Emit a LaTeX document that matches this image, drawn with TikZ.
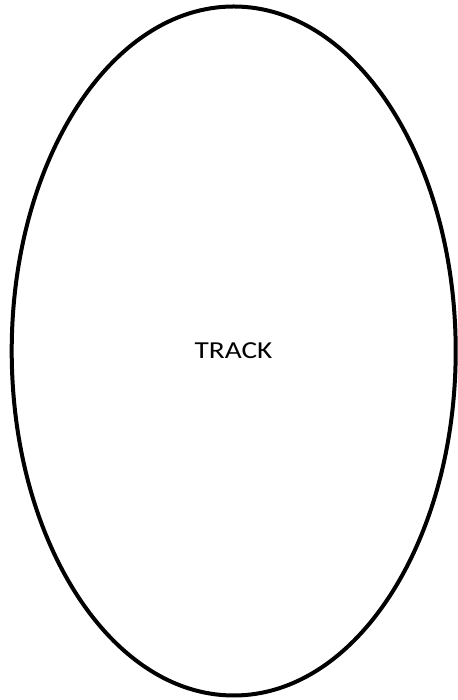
\documentclass[tikz,border=0pt]{standalone}
\usepackage{fontspec}
\setmainfont{Carlito}
\usetikzlibrary{shapes.geometric}

\begin{document}
\begin{tikzpicture}[x=0.5pt,y=0.5pt]
        \useasboundingbox (0,0) rectangle (458,700);
        \node[draw,ellipse,line width=2pt,minimum width=444*0.5pt,minimum height=689*0.5pt,inner sep=0pt] (track) at (233.7,349) {};
        \node[anchor=base,font=\fontsize{12.2}{14}\selectfont] (label) at (233.5,341) {\scalebox{1.2}[1]{TRACK}};
      \end{tikzpicture}
\end{document}
